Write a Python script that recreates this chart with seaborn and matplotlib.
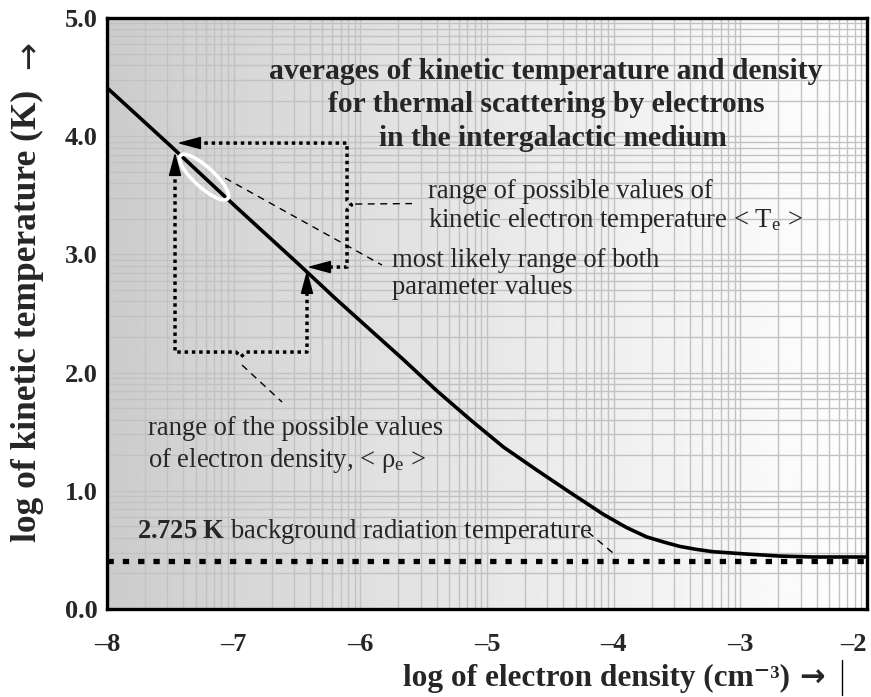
import numpy as np
import matplotlib
matplotlib.use("Agg")
import matplotlib.pyplot as plt
import seaborn as sns
from matplotlib.patches import Ellipse
from matplotlib.lines import Line2D
from matplotlib.transforms import IdentityTransform, ScaledTranslation

# ---- data ----
density_log = [-8.0, -7.5, -7.0, -6.5, -6.2, -5.92, -5.66, -5.40, -5.13, -4.87,
               -4.60, -4.35, -4.08, -3.90, -3.74, -3.60, -3.48, -3.35, -3.22,
               -2.95, -2.69, -2.43, -2.0]
temp_log = [4.41, 3.92, 3.42, 2.93, 2.63, 2.36, 2.11, 1.85, 1.60, 1.37,
            1.17, 0.99, 0.80, 0.69, 0.61, 0.565, 0.53, 0.505, 0.485,
            0.465, 0.448, 0.44, 0.44]
cmb_x = [-8.0, -2.0]
cmb_y = [0.41, 0.41]
x_ticks = [-8, -7, -6, -5, -4, -3, -2]
y_ticks = [0.0, 1.0, 2.0, 3.0, 4.0, 5.0]
# ranges (log units)
temp_range = [2.893, 3.942]
dens_range = [-7.463, -6.421]

W, H = 871, 697
sns.set_theme(style="white")
plt.rcParams["font.family"] = ["Liberation Serif", "DejaVu Serif"]
plt.rcParams["mathtext.fontset"] = "custom"
plt.rcParams["mathtext.rm"] = "Liberation Serif"
plt.rcParams["mathtext.it"] = "Liberation Serif:italic"
plt.rcParams["mathtext.bf"] = "Liberation Serif:bold"

fig = plt.figure(figsize=(W / 100, H / 100), dpi=100)
fig.patch.set_facecolor("white")
ax = fig.add_axes([107 / W, 1 - 609 / H, (867 - 107) / W, (609 - 18) / H])

def fx(px):
    return px / W

def fy(py):
    return 1 - py / H

# background gradient
t = np.linspace(0, 1, 400)
grad = 0.795 + 0.205 * t ** 0.85
ax.imshow(grad[None, :], extent=(-8, -2, 0, 5), aspect="auto", cmap="gray",
          vmin=0, vmax=1, zorder=0, interpolation="bilinear")

# log-style grid
gx = [n + np.log10(k) for n in range(-8, -2) for k in range(1, 10)]
gy = [n + np.log10(k) for n in range(0, 5) for k in range(1, 10)]
ax.vlines(gx, 0, 5, color="#c2c2c2", lw=1.0, zorder=1)
ax.hlines(gy, -8, -2, color="#c2c2c2", lw=1.0, zorder=1)

# CMB dotted line
sns.lineplot(x=cmb_x, y=cmb_y, ax=ax, color="black", lw=3.8,
             linestyle=(0, (1.2, 1.7)), dash_capstyle="butt", zorder=3)
# main curve
sns.lineplot(x=density_log, y=temp_log, ax=ax, color="black", lw=2.6,
             sort=False, estimator=None, zorder=4)

ax.set_xlim(-8, -2)
ax.set_ylim(0, 5)
ax.set_xticks(x_ticks)
ax.set_yticks(y_ticks)
ax.set_yticklabels([f"{v:.1f}" for v in y_ticks])
ax.set_xticklabels([f"\u2013{abs(v)}" for v in x_ticks])
ax.tick_params(axis="both", length=0, labelsize=19)
ax.tick_params(axis="x", pad=17)
ax.tick_params(axis="y", pad=7)
for lab in ax.get_xticklabels() + ax.get_yticklabels():
    lab.set_fontweight("bold")
ax.get_xticklabels()[-1].set_horizontalalignment("right")
for s in ax.spines.values():
    s.set_linewidth(2.4)
    s.set_color("black")
    s.set_zorder(10)
ax.set_xlabel("")
ax.set_ylabel("")

# dotted brackets
dot = dict(color="black", lw=2.5, linestyle=(0, (1.0, 1.1)),
           dash_capstyle="butt", zorder=5)
xv = -6.105
ym = (temp_range[0] + temp_range[1]) / 2
ax.plot([-7.289, xv, xv, xv + 0.035, xv, xv, -6.263],
        [temp_range[1], temp_range[1], ym + 0.04, ym, ym - 0.04,
         temp_range[0], temp_range[0]], **dot)
yb = 2.174
xm = (dens_range[0] + dens_range[1]) / 2
ax.plot([dens_range[0], dens_range[0], xm - 0.04, xm, xm + 0.04,
         dens_range[1], dens_range[1]],
        [3.697, yb, yb, yb - 0.04, yb, yb, 2.699], **dot)

arrow = dict(arrowstyle="-|>,head_length=1.2,head_width=0.32",
             mutation_scale=12, lw=1.2, color="black", shrinkA=0, shrinkB=0)
ax.annotate("", xy=(-7.447, temp_range[1]), xytext=(20, 0),
            textcoords="offset pixels", arrowprops=arrow, zorder=6)
ax.annotate("", xy=(-6.421, temp_range[0]), xytext=(20, 0),
            textcoords="offset pixels", arrowprops=arrow, zorder=6)
ax.annotate("", xy=(dens_range[0], 3.866), xytext=(0, -20),
            textcoords="offset pixels", arrowprops=arrow, zorder=6)
ax.annotate("", xy=(dens_range[1], 2.868), xytext=(0, -20),
            textcoords="offset pixels", arrowprops=arrow, zorder=6)

# dashed leaders
dash = dict(color="black", lw=1.0, linestyle=(0, (5, 4)), zorder=5)
ax.plot([-6.04, -5.592], [3.426, 3.43], **dash)
ax.plot([-7.068, -5.829], [3.646, 2.910], **dash)
ax.plot([-6.934, -6.618], [2.064, 1.751], **dash)
ax.plot([-4.203, -4.005], [0.651, 0.474], **dash)

# white ellipse (most likely region)
cx, cy = -7.234, 3.654
ell = Ellipse((0, 0), 64, 20, angle=-42.5, fill=False, edgecolor="white", lw=2.6,
              transform=IdentityTransform() + ScaledTranslation(cx, cy, ax.transData),
              zorder=7)
ax.add_patch(ell)

# title
tkw = dict(ha="center", va="baseline", fontsize=21.3, fontweight="bold")
fig.text(fx(546), fy(79), "averages of kinetic temperature and density", **tkw)
fig.text(fx(546), fy(112), "for thermal scattering by electrons", **tkw)
fig.text(fx(553), fy(146), "in the intergalactic medium", **tkw)

# annotations
akw = dict(ha="left", va="baseline", fontsize=19.2)
fig.text(fx(428), fy(198), "range of possible values of", **akw)
fig.text(fx(428), fy(227), r"kinetic electron temperature < T$_{\rm e}$ >", **akw)
fig.text(fx(392), fy(267), "most likely range of both", **akw)
fig.text(fx(392), fy(294), "parameter values", **akw)
fig.text(fx(148), fy(435), "range of the possible values", **akw)
fig.text(fx(148), fy(467), r"of electron density, < ρ$_{\rm e}$ >", **akw)
fig.text(fx(137), fy(538), r"$\mathbf{2.725\ K}$ background radiation temperature",
         **akw)

# axis labels
fig.text(fx(403), fy(686), "log of electron density (cm\u207b\u00b3)",
         ha="left", va="baseline", fontsize=22.5, fontweight="bold")
fig.text(fx(799), fy(678), "\u2192", ha="left", va="center", fontsize=22,
         fontweight="bold", family=["DejaVu Sans"])
fig.text(fx(27), fy(316), "log of kinetic temperature (K)", rotation=90,
         ha="center", va="center", fontsize=25.5, fontweight="bold")
fig.text(fx(29), fy(55), "\u2192", rotation=90, ha="center", va="center",
         fontsize=24, family=["DejaVu Sans"])
fig.add_artist(Line2D([fx(842), fx(842)], [fy(660), fy(695)],
                      transform=fig.transFigure, color="black", lw=1.0))

fig.savefig("out.png", dpi=100, facecolor="white")
